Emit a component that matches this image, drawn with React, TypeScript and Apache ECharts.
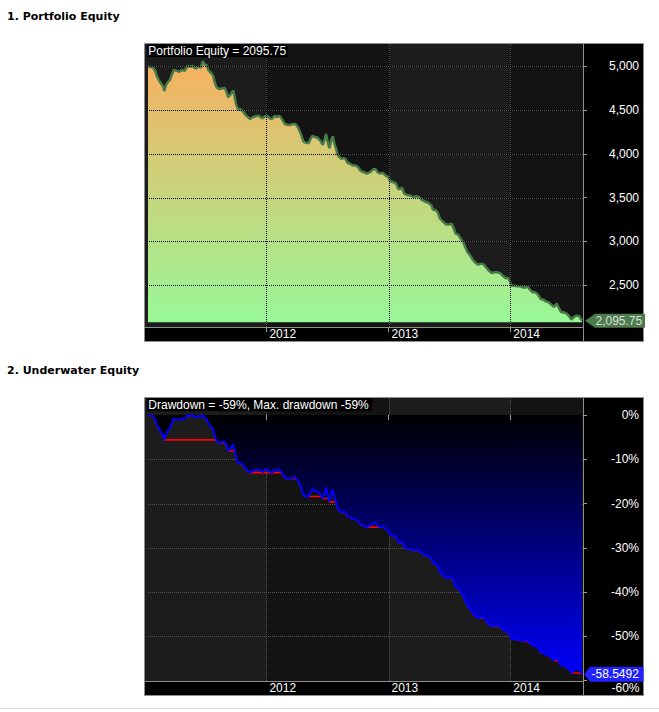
import React, { useEffect, useRef } from "react";
import * as echarts from "echarts";

// ---- data ----
const DATES: string[] = [
  "2011-01-11","2011-01-25","2011-02-02","2011-02-06","2011-02-12","2011-02-18","2011-02-24","2011-03-01","2011-03-06","2011-03-12",
  "2011-03-18","2011-03-24","2011-03-30","2011-04-07","2011-04-15","2011-04-23","2011-05-01","2011-05-09","2011-05-17","2011-05-25",
  "2011-06-02","2011-06-10","2011-06-18","2011-06-24","2011-06-30","2011-07-06","2011-07-12","2011-07-20","2011-07-26","2011-07-30",
  "2011-08-05","2011-08-13","2011-08-21","2011-08-29","2011-09-04","2011-09-08","2011-09-14","2011-09-20","2011-09-24","2011-09-28",
  "2011-10-02","2011-10-08","2011-10-14","2011-10-20","2011-10-26","2011-11-01","2011-11-07","2011-11-13","2011-11-21","2011-11-29",
  "2011-12-07","2011-12-15","2011-12-21","2011-12-27","2012-01-02","2012-01-08","2012-01-14","2012-01-20","2012-01-26","2012-02-01",
  "2012-02-07","2012-02-13","2012-02-19","2012-02-25","2012-03-04","2012-03-12","2012-03-20","2012-03-28","2012-04-03","2012-04-09",
  "2012-04-15","2012-04-21","2012-04-29","2012-05-07","2012-05-13","2012-05-19","2012-05-25","2012-05-31","2012-06-06","2012-06-12",
  "2012-06-18","2012-06-24","2012-06-28","2012-07-04","2012-07-08","2012-07-14","2012-07-18","2012-07-22","2012-07-28","2012-08-01",
  "2012-08-07","2012-08-13","2012-08-19","2012-08-25","2012-08-31","2012-09-08","2012-09-16","2012-09-24","2012-10-02","2012-10-08",
  "2012-10-16","2012-10-24","2012-10-28","2012-11-07","2012-11-15","2012-11-22","2012-11-29","2012-12-07","2012-12-15","2012-12-23",
  "2012-12-31","2013-01-06","2013-01-16","2013-01-24","2013-01-30","2013-02-05","2013-02-11","2013-02-17","2013-02-25","2013-03-07",
  "2013-03-17","2013-03-25","2013-04-02","2013-04-10","2013-04-18","2013-04-26","2013-05-04","2013-05-10","2013-05-14","2013-05-22",
  "2013-05-28","2013-06-03","2013-06-09","2013-06-17","2013-06-23","2013-07-01","2013-07-09","2013-07-15","2013-07-21","2013-07-29",
  "2013-08-06","2013-08-14","2013-08-20","2013-08-26","2013-09-03","2013-09-11","2013-09-19","2013-09-27","2013-10-06","2013-10-14",
  "2013-10-22","2013-10-30","2013-11-07","2013-11-15","2013-11-23","2013-12-01","2013-12-09","2013-12-17","2013-12-25","2013-12-31",
  "2014-01-04","2014-01-12","2014-01-20","2014-01-28","2014-02-05","2014-02-13","2014-02-21","2014-03-01","2014-03-09","2014-03-17",
  "2014-03-25","2014-04-02","2014-04-10","2014-04-18","2014-04-26","2014-05-04","2014-05-12","2014-05-20","2014-05-28","2014-06-03",
  "2014-06-11","2014-06-19","2014-06-27","2014-07-03","2014-07-11","2014-07-19","2014-07-27","2014-08-04"
];

const EQUITY: number[] = [
  4996,4985,4947,4890,4845,4807,4777,4715,4784,4822,
  4845,4909,4958,4947,4936,4958,4947,5004,4992,5004,
  4973,4992,4985,5056,5023,5011,4947,4920,4883,4814,
  4758,4739,4746,4750,4701,4644,4670,4708,4720,4644,
  4568,4504,4511,4492,4466,4436,4417,4398,4417,4428,
  4436,4417,4405,4428,4436,4417,4398,4405,4436,4417,
  4436,4417,4379,4341,4330,4330,4341,4341,4314,4265,
  4208,4140,4125,4125,4178,4208,4189,4189,4170,4140,
  4102,4170,4227,4114,4064,4170,4201,4125,4057,3989,
  3962,3943,3951,3943,3898,3886,3867,3867,3848,3811,
  3792,3784,3775,3791,3821,3829,3791,3775,3783,3753,
  3737,3688,3676,3657,3600,3600,3612,3547,3532,3524,
  3509,3517,3509,3478,3459,3448,3433,3410,3364,3357,
  3334,3269,3242,3212,3193,3193,3204,3155,3090,3079,
  3029,2984,2926,2877,2839,2786,2755,2736,2747,2736,
  2698,2660,2641,2649,2649,2641,2610,2584,2584,2546,
  2496,2496,2489,2489,2481,2470,2489,2451,2420,2420,
  2393,2344,2336,2317,2306,2279,2253,2291,2230,2192,
  2192,2176,2146,2108,2139,2154,2146,2095.75
];

const EQ_TICKS: number[] = [2500, 3000, 3500, 4000, 4500, 5000];
const DD_TICKS: number[] = [0, -10, -20, -30, -40, -50, -60];
const DD_LABELS: number[] = [0, -10, -20, -30, -40, -50];
const DD_BOTTOM_LABEL = -60;
const DD_GRID: number[] = [0, -10, -20, -30, -40, -50];
const YEAR_TICKS: string[] = ["2012-01-01", "2013-01-01", "2014-01-01"];
const X_RANGE: string[] = ["2011-01-11", "2014-08-07"];
const DARK_BANDS: string[][] = [["2012-01-01", "2013-01-01"], ["2014-01-01", "2014-08-07"]];
const EQ_RANGE: number[] = [2024.2, 5253.3];
const EQ_BASE = 2078;
const DD_RANGE: number[] = [-60.1, 3.84];

const ts = (s: string) => Date.parse(s + "T00:00:00Z");
const X_MIN = ts(X_RANGE[0]);
const X_MAX = ts(X_RANGE[1]);

const FONT = '"Liberation Sans", Arial, sans-serif';
const LIGHT_BG = "#1c1c1c";
const DARK_BG = "#131313";
const GRID_GRAY = "#555555";
const FRAME = "#8e8e8e";

function fmtComma(v: number): string {
  return v.toLocaleString("en-US", { maximumFractionDigits: 2 });
}

export default function App() {
  const ref = useRef<HTMLDivElement>(null);

  useEffect(() => {
    if (!ref.current) return;
    const chart = echarts.init(ref.current, null, { renderer: "svg", width: 659, height: 712 });

    let peak = -Infinity;
    const dd = EQUITY.map((v) => {
      peak = Math.max(peak, v);
      return (v / peak - 1) * 100;
    });
    let low = Infinity;
    const maxdd = dd.map((v) => {
      low = Math.min(low, v);
      return low;
    });
    const eqData = DATES.map((d, i) => [ts(d), EQUITY[i]]);
    const ddData = DATES.map((d, i) => [ts(d), dd[i]]);
    const mddData = DATES.map((d, i) => [ts(d), maxdd[i]]);
    const lastEq = EQUITY[EQUITY.length - 1];
    const lastDD = dd[dd.length - 1];
    const worst = maxdd[maxdd.length - 1];
    const yearTs = YEAR_TICKS.map(ts);

    const bandRender = (params: any, api: any) => {
      const cs = params.coordSys;
      const x0 = Math.round(api.coord([api.value(0), api.value(1)])[0]);
      const x1 = Math.round(api.coord([api.value(2), api.value(1)])[0]);
      return {
        type: "rect",
        shape: { x: x0, y: cs.y, width: Math.min(x1, cs.x + cs.width) - x0, height: cs.height },
        style: { fill: DARK_BG },
      };
    };
    const gridRender = (color: string, offset: number) => (params: any, api: any) => {
      const cs = params.coordSys;
      const p = api.coord([api.value(0), api.value(1)]);
      if (api.value(2) === 0) {
        const y = Math.round(p[1]) + 0.5;
        return {
          type: "line",
          shape: { x1: cs.x, y1: y, x2: cs.x + cs.width, y2: y },
          style: { stroke: color, lineWidth: 1, lineDash: [1, 1], lineDashOffset: offset },
        };
      }
      const x = Math.round(p[0]) + 0.5;
      return {
        type: "line",
        shape: { x1: x, y1: cs.y, x2: x, y2: cs.y + cs.height },
        style: { stroke: color, lineWidth: 1, lineDash: [1, 1], lineDashOffset: offset },
      };
    };

    const bandData = (ymin: number) => DARK_BANDS.map(([a, b]) => [ts(a), ymin, ts(b)]);
    const gridData = (ticks: number[], ymin: number) => [
      ...ticks.map((v) => [X_MIN, v, 0]),
      ...yearTs.map((t) => [t, ymin, 1]),
    ];

    const xAxisBase = (gi: number) => ({
      type: "value",
      gridIndex: gi,
      min: X_MIN,
      max: X_MAX,
      z: 6,
      axisLine: { show: false },
      splitLine: { show: false },
      axisTick: { show: true, customValues: yearTs, length: 5, lineStyle: { color: "#9a9a9a", width: 1 } },
      axisLabel: {
        customValues: yearTs,
        formatter: (v: number) => String(new Date(v).getUTCFullYear()),
        color: "#ffffff",
        fontFamily: FONT,
        fontSize: 12,
        align: "left",
        padding: [0, 0, 0, 3],
        margin: 1,
      },
    });

    const option: any = {
      animation: false,
      backgroundColor: "#ffffff",
      grid: [
        { left: 148, top: 44, width: 435, height: 283 },
        { left: 148, top: 398, width: 435, height: 283 },
      ],
      xAxis: [xAxisBase(0), xAxisBase(1)],
      yAxis: [
        {
          type: "value",
          gridIndex: 0,
          position: "right",
          min: EQ_RANGE[0],
          max: EQ_RANGE[1],
          z: 6,
          axisLine: { show: false },
          splitLine: { show: false },
          axisTick: { show: true, customValues: EQ_TICKS, length: 4, lineStyle: { color: "#9a9a9a" } },
          axisLabel: {
            customValues: EQ_TICKS,
            formatter: (v: number) => fmtComma(v),
            color: "#ffffff",
            fontFamily: FONT,
            fontSize: 12,
            align: "right",
            margin: 56,
          },
        },
        {
          type: "value",
          gridIndex: 1,
          position: "right",
          min: DD_RANGE[0],
          max: DD_RANGE[1],
          z: 6,
          axisLine: { show: false },
          splitLine: { show: false },
          axisTick: { show: true, customValues: DD_TICKS, length: 4, lineStyle: { color: "#9a9a9a" } },
          axisLabel: {
            customValues: DD_LABELS,
            formatter: (v: number) => `${v}%`,
            color: "#ffffff",
            fontFamily: FONT,
            fontSize: 12,
            align: "right",
            margin: 56,
          },
        },
      ],
      series: [
        // ---- equity pane ----
        { type: "custom", xAxisIndex: 0, yAxisIndex: 0, z: 1, silent: true, renderItem: bandRender, data: bandData(EQ_RANGE[0]) },
        { type: "custom", xAxisIndex: 0, yAxisIndex: 0, z: 2, silent: true, renderItem: gridRender(GRID_GRAY, 0), data: gridData(EQ_TICKS, EQ_RANGE[0]) },
        {
          type: "line",
          name: "Portfolio Equity",
          xAxisIndex: 0,
          yAxisIndex: 0,
          z: 3,
          silent: true,
          symbol: "none",
          data: eqData,
          lineStyle: { color: "#477a48", width: 2.5 },
          areaStyle: {
            origin: EQ_BASE,
            opacity: 1,
            color: {
              type: "linear", x: 0, y: 60, x2: 0, y2: 322, global: true,
              colorStops: [
                { offset: 0, color: "#f8b060" },
                { offset: 1, color: "#98f898" },
              ],
            },
          },
        },
        { type: "custom", xAxisIndex: 0, yAxisIndex: 0, z: 4, silent: true, renderItem: gridRender("#000000", 1), data: gridData(EQ_TICKS, EQ_RANGE[0]) },
        // ---- underwater pane ----
        { type: "custom", xAxisIndex: 1, yAxisIndex: 1, z: 1, silent: true, renderItem: bandRender, data: bandData(DD_RANGE[0]) },
        { type: "custom", xAxisIndex: 1, yAxisIndex: 1, z: 2, silent: true, renderItem: gridRender(GRID_GRAY, 0), data: gridData(DD_GRID, DD_RANGE[0]) },
        {
          type: "line",
          name: "Max. drawdown",
          xAxisIndex: 1,
          yAxisIndex: 1,
          z: 3,
          silent: true,
          symbol: "none",
          data: mddData,
          lineStyle: { color: "#ff0000", width: 1.6 },
        },
        {
          type: "line",
          name: "Drawdown",
          xAxisIndex: 1,
          yAxisIndex: 1,
          z: 4,
          silent: true,
          symbol: "none",
          data: ddData,
          lineStyle: { color: "#0000ff", width: 2 },
          areaStyle: {
            origin: 0,
            opacity: 1,
            color: {
              type: "linear", x: 0, y: 415, x2: 0, y2: 681, global: true,
              colorStops: [
                { offset: 0, color: "#000000" },
                { offset: 1, color: "#0000ff" },
              ],
            },
          },
        },
      ],
    };

    const pane = (top: number, title: string, titleW: number, section: string) => [
      { type: "text", x: 7, y: top - 27.3, z: 10, style: { text: section, font: 'bold 11px "DejaVu Sans", sans-serif', fill: "#000000", verticalAlign: "middle" } },
      { type: "rect", shape: { x: 144, y: top - 0.3, width: 440, height: 283.5 }, z: 0, style: { fill: LIGHT_BG } },
      { type: "rect", shape: { x: 583.5, y: top - 0.5, width: 60, height: 298 }, z: 0, style: { fill: "#000000" } },
      { type: "rect", shape: { x: 144.5, y: top + 283.5, width: 439, height: 14 }, z: 0, style: { fill: "#000000" } },
      { type: "line", shape: { x1: 144.5, y1: top + 283.5, x2: 583.5, y2: top + 283.5 }, z: 8, style: { stroke: FRAME, lineWidth: 1 } },
      { type: "line", shape: { x1: 583.5, y1: top - 0.5, x2: 583.5, y2: top + 297.5 }, z: 8, style: { stroke: FRAME, lineWidth: 1 } },
      { type: "rect", shape: { x: 144.5, y: top - 0.5, width: 499, height: 298 }, z: 8, style: { fill: null, stroke: FRAME, lineWidth: 1 } },
      { type: "rect", shape: { x: 147, y: top + 0.3, width: titleW, height: 13 }, z: 10, style: { fill: "#000000" } },
      { type: "text", x: 148.3, y: top + 6.8, z: 11, style: { text: title, font: `12px ${FONT}`, fill: "#ffffff", verticalAlign: "middle" } },
    ];

    const staticEls = [
      ...pane(44, `Portfolio Equity = ${lastEq}`, 141, "1. Portfolio Equity"),
      ...pane(398, `Drawdown = ${Math.round(lastDD)}%, Max. drawdown ${Math.round(worst)}%`, 225, "2. Underwater Equity"),
      { type: "line", shape: { x1: 0, y1: 708.5, x2: 659, y2: 708.5 }, z: 1, style: { stroke: "#dcdcdc", lineWidth: 1 } },
    ];

    option.graphic = { elements: staticEls };
    chart.setOption(option);

    const y1 = chart.convertToPixel({ yAxisIndex: 0 }, lastEq) as number;
    const y2 = chart.convertToPixel({ yAxisIndex: 1 }, lastDD) as number;
    const yBottom = chart.convertToPixel({ yAxisIndex: 1 }, DD_BOTTOM_LABEL) as number;
    const labelEls = [
      { type: "polygon", z: 12, shape: { points: [[585, y1], [595, y1 - 7], [645, y1 - 7], [645, y1 + 7], [595, y1 + 7]] }, style: { fill: "#4c7c4c" } },
      { type: "text", z: 13, x: 595.5, y: y1, style: { text: fmtComma(lastEq), font: `12px ${FONT}`, fill: "#dcdcdc", verticalAlign: "middle" } },
      { type: "polygon", z: 12, shape: { points: [[584.3, y2], [590, y2 - 7.5], [643.5, y2 - 7.5], [643.5, y2 + 7.5], [590, y2 + 7.5]] }, style: { fill: "#2222ff" } },
      { type: "text", z: 13, x: 591.5, y: y2, style: { text: lastDD.toFixed(4), font: `12px ${FONT}`, fill: "#ffffff", verticalAlign: "middle" } },
      { type: "text", z: 11, x: 639.5, y: Math.max(yBottom, y2 + 8), style: { text: `${DD_BOTTOM_LABEL}%`, font: `12px ${FONT}`, fill: "#ffffff", align: "right", verticalAlign: "top" } },
    ];
    chart.setOption({ graphic: { elements: [...staticEls, ...labelEls] } });

    return () => chart.dispose();
  }, []);

  return (
    <div
      ref={ref}
      style={{ position: "fixed", left: 0, top: 0, width: 659, height: 712, background: "#ffffff" }}
    />
  );
}
